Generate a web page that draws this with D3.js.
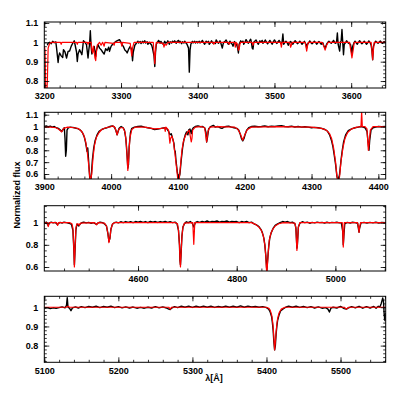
<!DOCTYPE html>
<html>
<head>
<meta charset="utf-8">
<script src="https://cdn.jsdelivr.net/npm/d3@7"></script>
<style>
  body { margin: 0; background: #fff; }
  text { font-family: "Liberation Sans", Arial, sans-serif; }
</style>
</head>
<body>
<div id="chart"></div>
<script>
// observed (black) and model (red) spectra, [wavelength, normalized flux]
const obs1 = [[3204,0.985],[3205,0.996],[3207,1.0],[3209,0.993],[3211,1.005],[3213,0.998],[3215,1.002],[3216,0.97],[3218,0.896],[3219,0.93],[3220,0.945],[3222,0.93],[3224,0.922],[3225,0.962],[3227,0.95],[3229,0.919],[3231,0.953],[3233,0.955],[3235,0.979],[3237,0.995],[3238,1.0],[3239,1.008],[3240,0.99],[3242,0.95],[3243,0.901],[3244,0.94],[3246,0.962],[3248,0.945],[3249,0.936],[3250,0.97],[3251,1.008],[3253,1.0],[3255,0.988],[3257,0.919],[3258,0.96],[3259,0.99],[3260,1.06],[3261,0.98],[3262,0.94],[3264,0.965],[3265,0.979],[3267,0.927],[3268,0.96],[3270,0.988],[3272,0.97],[3274,0.962],[3276,0.95],[3278,0.939],[3280,0.967],[3282,0.958],[3284,0.975],[3285,0.953],[3287,0.979],[3289,0.99],[3292,1.0],[3294,1.006],[3296,1.01],[3298,1.014],[3300,1.0],[3301,0.99],[3303,0.979],[3305,0.96],[3307,0.953],[3308,0.945],[3310,0.965],[3312,0.979],[3314,0.96],[3315,0.905],[3316,0.95],[3318,0.985],[3320,0.995],[3322,1.006],[3323,0.996],[3325,1.004],[3326,0.994],[3328,1.005],[3329,0.997],[3331,1.008],[3332,0.996],[3334,1.003],[3335,0.99],[3337,1.0],[3338,0.995],[3340,0.985],[3341,0.97],[3343,0.93],[3344,0.875],[3345,0.95],[3346,0.99],[3348,1.004],[3349,1.01],[3351,0.996],[3352,1.005],[3354,0.993],[3355,0.99],[3357,1.005],[3358,0.996],[3360,1.0],[3361,1.008],[3363,0.99],[3364,1.003],[3366,0.996],[3367,1.006],[3369,1.0],[3370,1.008],[3372,0.995],[3373,1.004],[3375,1.01],[3376,0.998],[3377,1.005],[3379,0.993],[3380,1.003],[3382,0.996],[3383,1.006],[3385,0.995],[3386,0.99],[3388,0.97],[3389,0.846],[3390,0.96],[3391,0.99],[3393,1.005],[3394,0.997],[3396,1.006],[3397,0.996],[3399,1.004],[3400,0.997],[3402,1.006],[3403,0.997],[3405,1.004],[3406,1.01],[3408,0.996],[3409,0.99],[3411,1.006],[3412,0.998],[3414,1.005],[3415,0.99],[3417,1.0],[3418,1.008],[3420,0.994],[3421,1.0],[3423,0.994],[3424,1.012],[3426,1.0],[3427,0.995],[3429,1.008],[3430,0.998],[3432,0.97],[3433,0.99],[3434,1.0],[3436,1.007],[3437,1.012],[3439,0.996],[3440,0.99],[3442,1.006],[3443,0.998],[3445,0.99],[3446,0.98],[3448,1.004],[3449,0.996],[3451,0.985],[3452,0.97],[3453,0.945],[3454,0.99],[3456,1.008],[3457,1.0],[3459,1.006],[3460,0.99],[3462,1.005],[3463,1.014],[3465,1.0],[3466,0.995],[3468,1.01],[3469,1.016],[3470,1.0],[3471,0.97],[3472,0.965],[3473,1.0],[3475,1.008],[3476,1.012],[3478,0.996],[3479,0.99],[3481,1.008],[3482,1.0],[3484,1.01],[3485,0.995],[3487,1.004],[3488,1.012],[3490,0.998],[3491,0.992],[3493,1.004],[3494,1.01],[3496,0.997],[3497,0.99],[3499,1.006],[3500,1.012],[3502,1.0],[3503,0.994],[3505,1.004],[3506,1.01],[3508,0.997],[3509,0.99],[3510,1.004],[3511,1.043],[3512,0.99],[3514,1.002],[3515,1.006],[3517,0.995],[3518,0.985],[3520,1.0],[3521,1.004],[3523,0.995],[3524,0.99],[3526,1.004],[3527,1.008],[3529,0.998],[3530,0.993],[3532,1.0],[3533,1.006],[3535,0.996],[3536,0.99],[3538,1.0],[3539,1.005],[3541,0.99],[3542,0.97],[3543,0.99],[3545,1.0],[3546,1.007],[3548,0.996],[3549,0.992],[3551,1.0],[3552,1.006],[3554,0.997],[3555,0.99],[3557,1.0],[3558,1.004],[3560,0.995],[3561,0.99],[3563,0.998],[3564,0.985],[3566,0.97],[3568,0.99],[3570,1.002],[3571,1.006],[3573,0.998],[3574,0.995],[3576,1.004],[3577,1.01],[3579,0.996],[3580,0.995],[3581,1.005],[3582,1.048],[3583,0.99],[3585,0.955],[3586,1.0],[3587,1.01],[3588,1.066],[3589,1.0],[3590,0.936],[3591,0.99],[3593,1.0],[3594,1.008],[3596,0.997],[3597,0.995],[3599,0.99],[3600,0.97],[3601,0.936],[3602,0.98],[3604,1.0],[3605,1.006],[3607,0.995],[3608,0.99],[3610,1.003],[3611,1.008],[3613,0.997],[3614,0.993],[3616,1.0],[3617,1.006],[3619,0.996],[3620,0.99],[3622,1.0],[3623,1.007],[3625,0.996],[3626,0.985],[3627,0.96],[3628,0.91],[3629,0.98],[3631,1.0],[3632,1.006],[3634,0.998],[3635,0.995],[3637,1.003],[3638,1.007],[3640,0.997],[3641,0.995],[3643,1.004],[3645,1.0]];
const mod1 = [[3200,0.98],[3201,0.96],[3202,0.7],[3203,0.7],[3204,0.8],[3205,0.97],[3207,0.995],[3210,1.0],[3221,1.0],[3222,0.99],[3223,1.0],[3242,1.0],[3243,0.99],[3244,1.0],[3256,1.0],[3257,0.99],[3258,1.0],[3261,1.0],[3262,0.96],[3263,0.945],[3264,0.98],[3265,0.95],[3266,0.92],[3267,0.905],[3268,0.95],[3269,0.985],[3272,1.0],[3274,0.985],[3276,1.0],[3278,0.98],[3279,1.0],[3290,0.995],[3291,0.985],[3292,1.0],[3300,1.0],[3301,0.98],[3302,1.0],[3312,0.995],[3313,0.96],[3314,0.93],[3315,0.97],[3317,1.0],[3342,1.0],[3343,0.95],[3344,0.89],[3345,0.96],[3346,1.0],[3355,0.995],[3356,0.975],[3357,0.99],[3359,0.985],[3361,1.0],[3420,1.0],[3421,0.99],[3422,1.0],[3440,1.0],[3441,0.99],[3442,1.0],[3448,1.0],[3449,0.975],[3450,1.0],[3452,0.99],[3453,0.96],[3454,0.965],[3455,0.99],[3456,1.0],[3471,1.0],[3472,0.985],[3473,1.0],[3508,1.0],[3509,0.975],[3510,1.0],[3520,1.0],[3521,0.975],[3522,0.985],[3523,1.0],[3540,1.0],[3541,0.98],[3542,0.955],[3543,0.98],[3544,1.0],[3562,1.0],[3564,0.985],[3566,0.96],[3568,0.985],[3570,1.0],[3598,1.0],[3599,0.97],[3601,0.92],[3603,0.97],[3604,1.0],[3626,1.0],[3627,0.96],[3628,0.91],[3629,0.96],[3630,1.0],[3645,1.0]];

const obs2 = [[3900,1.0],[3903,1.005],[3906,0.998],[3909,1.003],[3912,0.995],[3915,1.0],[3918,0.99],[3921,0.985],[3924,0.97],[3926,0.958],[3928,0.975],[3930,0.99],[3931,0.9],[3932,0.75],[3933,0.8],[3934,0.97],[3936,0.99],[3939,0.995],[3942,0.993],[3945,0.99],[3948,0.985],[3951,0.98],[3954,0.97],[3957,0.95],[3960,0.91],[3962,0.86],[3964,0.79],[3965,0.82],[3966,0.74],[3967,0.65],[3968,0.57],[3969,0.55],[3970,0.56],[3971,0.64],[3972,0.72],[3974,0.82],[3976,0.88],[3979,0.93],[3982,0.96],[3986,0.975],[3990,0.985],[3994,0.99],[3998,1.0],[4002,1.005],[4005,0.995],[4007,0.97],[4009,0.93],[4010,0.95],[4012,0.985],[4015,1.0],[4018,0.99],[4020,0.97],[4022,0.9],[4024,0.75],[4025,0.65],[4026,0.68],[4027,0.83],[4029,0.95],[4031,0.985],[4035,0.995],[4040,1.0],[4045,1.003],[4050,0.995],[4055,0.99],[4060,0.985],[4065,0.975],[4070,0.978],[4075,0.985],[4080,0.99],[4083,0.985],[4086,0.96],[4088,0.93],[4090,0.94],[4092,0.9],[4094,0.86],[4095,0.8],[4096,0.79],[4097,0.72],[4099,0.62],[4101,0.555],[4103,0.6],[4105,0.72],[4107,0.82],[4109,0.89],[4111,0.93],[4113,0.955],[4115,0.93],[4116,0.97],[4118,0.98],[4120,0.94],[4121,0.97],[4123,0.99],[4126,1.0],[4130,1.005],[4134,0.998],[4137,1.0],[4140,0.99],[4142,0.95],[4143,0.87],[4144,0.9],[4146,0.98],[4149,1.0],[4153,1.01],[4156,0.995],[4160,1.0],[4163,0.99],[4166,0.985],[4169,0.995],[4172,1.0],[4176,1.003],[4180,0.995],[4184,0.99],[4188,0.985],[4191,0.97],[4193,0.94],[4195,0.9],[4197,0.88],[4199,0.9],[4201,0.94],[4203,0.97],[4206,0.99],[4210,1.0],[4215,1.003],[4220,0.998],[4225,1.0],[4230,1.005],[4235,0.998],[4240,1.002],[4245,1.0],[4250,1.005],[4255,1.008],[4260,1.0],[4265,0.998],[4270,1.003],[4275,0.996],[4280,1.0],[4285,0.995],[4290,0.998],[4295,0.995],[4300,0.99],[4305,0.993],[4310,0.99],[4315,0.985],[4320,0.975],[4324,0.96],[4327,0.93],[4330,0.88],[4332,0.83],[4334,0.76],[4336,0.68],[4338,0.58],[4340,0.54],[4342,0.6],[4344,0.71],[4346,0.8],[4348,0.87],[4351,0.93],[4355,0.965],[4360,0.98],[4365,0.99],[4370,0.995],[4374,1.0],[4377,0.995],[4380,0.99],[4383,0.96],[4385,0.85],[4386,0.8],[4387,0.88],[4389,0.97],[4392,0.99],[4396,0.995],[4400,1.0],[4405,0.998],[4411,1.0]];
const mod2 = [[3900,0.995],[3910,0.995],[3918,0.99],[3922,0.975],[3926,0.955],[3929,0.985],[3935,0.995],[3945,0.99],[3950,0.985],[3955,0.965],[3959,0.93],[3962,0.87],[3964,0.8],[3966,0.7],[3968,0.58],[3969,0.54],[3971,0.6],[3973,0.74],[3975,0.84],[3978,0.91],[3982,0.95],[3986,0.975],[3992,0.99],[4000,1.0],[4003,1.005],[4006,0.99],[4008,0.95],[4009,0.93],[4011,0.97],[4014,0.99],[4018,0.99],[4021,0.95],[4023,0.84],[4025,0.63],[4026,0.7],[4028,0.9],[4031,0.975],[4036,0.995],[4050,0.995],[4065,0.98],[4075,0.985],[4080,0.99],[4081,0.96],[4082,0.995],[4086,0.97],[4088,0.86],[4089,0.9],[4091,0.92],[4093,0.88],[4095,0.8],[4097,0.7],[4099,0.6],[4100,0.54],[4102,0.56],[4104,0.68],[4106,0.8],[4108,0.87],[4111,0.92],[4114,0.95],[4117,0.97],[4119,0.9],[4120,0.87],[4121,0.9],[4122,0.97],[4126,0.995],[4135,1.0],[4140,0.99],[4143,0.87],[4145,0.96],[4148,0.995],[4160,1.0],[4185,0.995],[4190,0.975],[4194,0.93],[4197,0.885],[4200,0.93],[4204,0.975],[4210,0.995],[4250,1.0],[4300,0.995],[4315,0.985],[4322,0.97],[4327,0.94],[4330,0.9],[4333,0.82],[4336,0.7],[4338,0.58],[4340,0.53],[4342,0.58],[4344,0.7],[4347,0.82],[4350,0.9],[4354,0.95],[4360,0.98],[4368,0.995],[4374,1.0],[4375,1.13],[4376,1.0],[4380,1.0],[4383,0.98],[4385,0.8],[4386,0.85],[4388,0.97],[4392,1.0],[4411,1.0]];

const obs3 = [[4410,1.01],[4412,0.995],[4414,1.005],[4416,0.99],[4418,0.975],[4420,0.995],[4424,1.005],[4428,0.998],[4432,1.003],[4436,0.985],[4438,0.99],[4442,1.002],[4446,0.997],[4450,1.004],[4455,1.0],[4460,0.995],[4465,0.985],[4468,0.93],[4470,0.75],[4471,0.62],[4472,0.72],[4474,0.93],[4476,0.985],[4478,0.98],[4480,0.97],[4482,0.985],[4486,1.0],[4490,1.005],[4495,0.998],[4500,1.003],[4505,0.995],[4510,1.0],[4514,0.99],[4516,0.985],[4519,0.998],[4523,1.005],[4528,1.0],[4532,0.99],[4536,0.97],[4539,0.9],[4541,0.83],[4543,0.86],[4545,0.94],[4548,0.985],[4552,1.0],[4556,1.005],[4560,0.998],[4565,1.008],[4570,1.0],[4575,1.01],[4580,1.003],[4585,1.008],[4590,1.0],[4595,1.01],[4600,1.005],[4605,1.012],[4610,1.003],[4615,1.01],[4620,1.0],[4625,1.012],[4630,1.005],[4635,1.01],[4640,1.002],[4645,1.01],[4650,1.004],[4655,1.012],[4660,1.003],[4665,1.008],[4670,1.0],[4675,1.005],[4679,0.99],[4682,0.93],[4684,0.8],[4685,0.66],[4686,0.62],[4687,0.7],[4689,0.88],[4691,0.96],[4694,0.99],[4698,1.008],[4702,1.0],[4706,1.01],[4710,0.995],[4713,0.96],[4716,1.0],[4720,1.01],[4725,1.003],[4730,1.012],[4735,1.005],[4740,1.015],[4745,1.005],[4750,1.012],[4755,1.008],[4760,1.015],[4765,1.005],[4770,1.012],[4775,1.008],[4780,1.015],[4785,1.005],[4790,1.012],[4795,1.008],[4800,1.01],[4805,1.0],[4810,1.01],[4815,1.005],[4820,1.012],[4825,1.0],[4830,1.005],[4835,0.99],[4840,0.98],[4845,0.965],[4849,0.94],[4852,0.91],[4855,0.86],[4857,0.8],[4859,0.7],[4861,0.57],[4863,0.68],[4865,0.79],[4867,0.86],[4870,0.91],[4874,0.95],[4878,0.975],[4883,0.99],[4888,1.0],[4893,1.01],[4898,1.005],[4903,1.01],[4908,1.0],[4913,1.005],[4918,0.99],[4920,0.95],[4922,0.77],[4923,0.8],[4925,0.96],[4928,0.995],[4933,1.008],[4938,1.0],[4943,1.005],[4948,0.995],[4953,1.003],[4958,0.998],[4963,1.005],[4968,1.0],[4973,1.003],[4978,0.997],[4983,1.004],[4988,0.998],[4993,1.003],[4998,1.0],[5003,1.004],[5008,0.998],[5012,1.0],[5015,0.92],[5016,0.8],[5017,0.87],[5019,0.99],[5024,1.003],[5030,0.997],[5035,1.004],[5040,1.0],[5045,0.995],[5047,0.94],[5048,0.915],[5049,0.95],[5052,0.998],[5058,1.003],[5064,0.997],[5070,1.003],[5076,0.998],[5082,1.004],[5088,0.997],[5094,1.002],[5102,1.0]];
const mod3 = [[4410,1.0],[4416,1.0],[4418,0.965],[4420,1.0],[4435,1.0],[4437,0.975],[4439,1.0],[4462,1.0],[4466,0.99],[4468,0.95],[4470,0.75],[4471,0.6],[4472,0.73],[4474,0.95],[4476,0.99],[4478,0.99],[4481,0.975],[4483,0.995],[4512,1.0],[4516,0.98],[4519,1.0],[4532,0.995],[4536,0.97],[4539,0.9],[4541,0.82],[4543,0.86],[4545,0.94],[4548,0.985],[4552,1.0],[4676,1.0],[4680,0.99],[4682,0.93],[4684,0.8],[4685,0.66],[4686,0.6],[4687,0.7],[4689,0.88],[4691,0.96],[4694,0.995],[4711,1.0],[4712,0.9],[4713,0.805],[4714,0.9],[4715,1.0],[4830,1.0],[4838,0.985],[4845,0.96],[4850,0.93],[4854,0.88],[4857,0.8],[4859,0.7],[4860,0.6],[4861,0.54],[4862,0.6],[4864,0.74],[4866,0.84],[4869,0.9],[4873,0.94],[4878,0.97],[4885,0.99],[4895,1.0],[4918,0.995],[4920,0.95],[4922,0.75],[4923,0.8],[4925,0.96],[4928,1.0],[5014,1.0],[5015,0.9],[5016,0.78],[5017,0.87],[5018,1.0],[5045,1.0],[5047,0.95],[5048,0.913],[5049,0.95],[5051,1.0],[5102,1.0]];

const obs4 = [[5100,0.995],[5104,0.998],[5108,0.993],[5112,0.997],[5116,0.994],[5120,0.998],[5124,1.002],[5128,0.997],[5130,1.01],[5131,1.05],[5132,1.0],[5134,0.995],[5136,0.982],[5138,0.997],[5142,1.002],[5146,0.996],[5150,1.003],[5155,0.998],[5160,1.004],[5165,1.0],[5170,1.005],[5175,0.998],[5180,1.004],[5185,1.0],[5190,1.006],[5195,0.998],[5200,1.003],[5205,0.997],[5210,1.002],[5215,0.996],[5220,1.001],[5225,0.995],[5230,0.999],[5235,0.995],[5240,1.0],[5245,0.996],[5250,1.003],[5255,0.997],[5260,1.002],[5265,0.996],[5268,0.99],[5270,0.988],[5272,0.996],[5276,1.003],[5280,0.998],[5285,1.005],[5290,1.0],[5295,1.006],[5300,0.999],[5305,1.005],[5310,1.0],[5315,1.006],[5320,1.0],[5325,1.005],[5330,0.999],[5335,1.004],[5340,1.0],[5345,1.006],[5350,1.0],[5355,1.005],[5360,1.0],[5365,1.007],[5370,1.0],[5375,1.006],[5380,1.002],[5385,1.004],[5390,1.0],[5395,1.003],[5400,0.998],[5403,0.99],[5405,0.975],[5407,0.95],[5408,0.92],[5409,0.88],[5410,0.82],[5411,0.778],[5412,0.8],[5413,0.86],[5414,0.9],[5415,0.93],[5417,0.96],[5419,0.98],[5422,0.99],[5426,1.0],[5430,1.006],[5435,1.0],[5440,1.005],[5445,0.999],[5450,1.004],[5455,0.998],[5460,1.003],[5465,0.996],[5470,1.002],[5475,0.995],[5480,0.998],[5483,0.99],[5485,0.975],[5487,0.995],[5490,1.0],[5495,0.996],[5500,1.004],[5505,0.993],[5508,0.99],[5510,0.995],[5515,1.003],[5520,0.997],[5525,1.005],[5530,0.995],[5535,1.003],[5540,0.996],[5545,1.004],[5548,0.995],[5551,1.005],[5553,1.0],[5555,1.02],[5557,1.048],[5558,1.03],[5559,0.96],[5560,0.93],[5561,0.97]];
const mod4 = [[5100,1.0],[5130,1.0],[5132,1.005],[5134,1.0],[5268,1.0],[5270,0.99],[5272,1.0],[5400,1.0],[5403,0.995],[5405,0.985],[5407,0.96],[5408,0.935],[5409,0.9],[5410,0.84],[5411,0.778],[5412,0.82],[5413,0.87],[5414,0.91],[5415,0.94],[5417,0.97],[5420,0.99],[5425,1.0],[5505,1.0],[5508,0.99],[5511,1.0],[5561,1.0]];

// axis tick labels
const xTicks1 = [3200, 3300, 3400, 3500, 3600];
const yTicks1 = [0.8, 0.9, 1, 1.1];
const xTicks2 = [3900, 4000, 4100, 4200, 4300, 4400];
const yTicks2 = [0.6, 0.7, 0.8, 0.9, 1, 1.1];
const xTicks3 = [4600, 4800, 5000];
const yTicks3 = [0.6, 0.8, 1];
const xTicks4 = [5100, 5200, 5300, 5400, 5500];
const yTicks4 = [0.8, 0.9, 1];

const width = 407, height = 407;
const left = 44.3, right = 385.7;

const panels = [
  { obs: obs1, mod: mod1, xDom: [3200, 3645], yDom: [0.764, 1.105], top: 22, bottom: 88, xTicks: xTicks1, yTicks: yTicks1, xMinor: 20, yMinor: 0.02 },
  { obs: obs2, mod: mod2, xDom: [3900, 4411], yDom: [0.558, 1.12], top: 112.3, bottom: 179, xTicks: xTicks2, yTicks: yTicks2, xMinor: 20, yMinor: 0.05 },
  { obs: obs3, mod: mod3, xDom: [4410, 5102], yDom: [0.564, 1.153], top: 205.7, bottom: 271, xTicks: xTicks3, yTicks: yTicks3, xMinor: 50, yMinor: 0.05 },
  { obs: obs4, mod: mod4, xDom: [5100, 5561], yDom: [0.713, 1.057], top: 296.3, bottom: 362.3, xTicks: xTicks4, yTicks: yTicks4, xMinor: 20, yMinor: 0.02 }
];

const svg = d3.select("#chart").append("svg")
  .attr("width", width)
  .attr("height", height);

const fmt = d3.format("~g");

// minor tick values between the domain ends
function minorTicks(dom, step) {
  const lo = Math.ceil(dom[0] / step - 1e-6), hi = Math.floor(dom[1] / step + 1e-6);
  return d3.range(lo, hi + 1).map(k => +(k * step).toFixed(4));
}

panels.forEach((p, i) => {
  const x = d3.scaleLinear().domain(p.xDom).range([left, right]);
  const y = d3.scaleLinear().domain(p.yDom).range([p.bottom, p.top]);
  const g = svg.append("g");

  g.append("clipPath").attr("id", "clip" + i)
    .append("rect")
    .attr("x", left).attr("y", p.top)
    .attr("width", right - left).attr("height", p.bottom - p.top);

  const line = d3.line().x(d => x(d[0])).y(d => y(d[1]));

  g.append("path").datum(p.obs)
    .attr("d", line)
    .attr("fill", "none")
    .attr("stroke", "#000")
    .attr("stroke-width", 1.4)
    .attr("stroke-linejoin", "round")
    .attr("clip-path", `url(#clip${i})`);

  g.append("path").datum(p.mod)
    .attr("d", line)
    .attr("fill", "none")
    .attr("stroke", "#ff0000")
    .attr("stroke-width", 1.2)
    .attr("stroke-linejoin", "round")
    .attr("clip-path", `url(#clip${i})`);

  const xm = minorTicks(p.xDom, p.xMinor);
  const ym = minorTicks(p.yDom, p.yMinor);

  // major ticks with labels (bottom, left)
  g.append("g").attr("class", "axis")
    .attr("transform", `translate(0,${p.bottom})`)
    .call(d3.axisBottom(x).tickValues(p.xTicks).tickSize(-5).tickPadding(5).tickFormat(fmt));
  g.append("g").attr("class", "axis")
    .attr("transform", `translate(${left},0)`)
    .call(d3.axisLeft(y).tickValues(p.yTicks).tickSize(-5).tickPadding(6).tickFormat(fmt));
  // mirrored major ticks (top, right)
  g.append("g").attr("class", "axis")
    .attr("transform", `translate(0,${p.top})`)
    .call(d3.axisTop(x).tickValues(p.xTicks).tickSize(-5).tickFormat(""));
  g.append("g").attr("class", "axis")
    .attr("transform", `translate(${right},0)`)
    .call(d3.axisRight(y).tickValues(p.yTicks).tickSize(-5).tickFormat(""));
  // minor ticks on all sides
  g.append("g").attr("class", "axis")
    .attr("transform", `translate(0,${p.bottom})`)
    .call(d3.axisBottom(x).tickValues(xm).tickSize(-2.5).tickFormat(""));
  g.append("g").attr("class", "axis")
    .attr("transform", `translate(0,${p.top})`)
    .call(d3.axisTop(x).tickValues(xm).tickSize(-2.5).tickFormat(""));
  g.append("g").attr("class", "axis")
    .attr("transform", `translate(${left},0)`)
    .call(d3.axisLeft(y).tickValues(ym).tickSize(-2.5).tickFormat(""));
  g.append("g").attr("class", "axis")
    .attr("transform", `translate(${right},0)`)
    .call(d3.axisRight(y).tickValues(ym).tickSize(-2.5).tickFormat(""));

  g.selectAll(".axis .domain").remove();
  g.selectAll(".axis line").attr("stroke", "#000").attr("stroke-width", 0.8);
  g.selectAll(".axis text")
    .attr("fill", "#000")
    .style("font-size", "9px")
    .style("font-weight", "bold")
    .style("font-family", "'Liberation Sans', Arial, sans-serif");

  // frame
  g.append("rect")
    .attr("x", left).attr("y", p.top)
    .attr("width", right - left).attr("height", p.bottom - p.top)
    .attr("fill", "none")
    .attr("stroke", "#000")
    .attr("stroke-width", 1);
});

// axis titles
svg.append("text")
  .attr("transform", "translate(17,195) rotate(-90)")
  .attr("text-anchor", "middle")
  .attr("dy", "0.35em")
  .style("font-size", "9px")
  .style("font-weight", "bold")
  .text("Normalized flux");

svg.append("text")
  .attr("x", 214)
  .attr("y", 381)
  .attr("text-anchor", "middle")
  .style("font-size", "9px")
  .style("font-weight", "bold")
  .text("λ[Å]");
</script>
</body>
</html>
